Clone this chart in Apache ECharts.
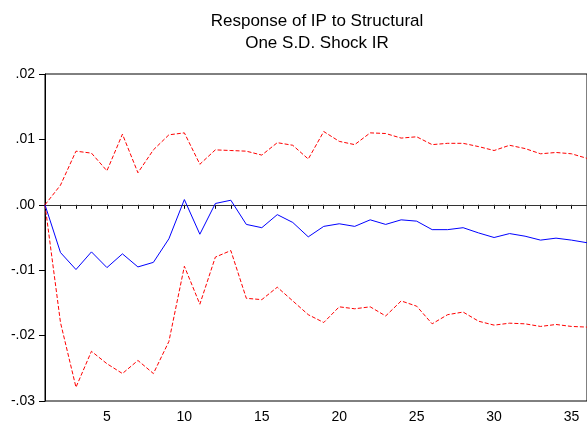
<!DOCTYPE html>
<html>
<head>
<meta charset="utf-8">
<title>Response of IP to Structural One S.D. Shock IR</title>
<script src="https://cdn.jsdelivr.net/npm/echarts@6/dist/echarts.min.js"></script>
<style>
  html, body { margin: 0; padding: 0; background: #fff; }
  #chart { width: 587px; height: 430px; }
</style>
</head>
<body>
<div id="chart"></div>
<script>
// Horizon (periods after the shock)
const periods = Array.from({ length: 36 }, (_, i) => String(i + 1));

// Impulse response of IP to a one S.D. structural IR shock
const response = [
  0, -0.0073, -0.0099, -0.0072, -0.0096, -0.0075, -0.0095, -0.0088, -0.0052, 0.0008,
  -0.0045, 0.0002, 0.0007, -0.0030, -0.0035, -0.0015, -0.0027, -0.0049, -0.0033, -0.0029,
  -0.0033, -0.0023, -0.0030, -0.0023, -0.0025, -0.0038, -0.0038, -0.0035, -0.0043, -0.0050,
  -0.0044, -0.0048, -0.0054, -0.0051, -0.0054, -0.0058
];

// +/- 2 S.E. bands
const upperBand = [
  0, 0.0030, 0.0082, 0.0079, 0.0052, 0.0108, 0.0049, 0.0084, 0.0107, 0.0110,
  0.0062, 0.0084, 0.0083, 0.0082, 0.0076, 0.0095, 0.0091, 0.0070, 0.0112, 0.0097,
  0.0092, 0.0110, 0.0109, 0.0102, 0.0104, 0.0092, 0.0094, 0.0094, 0.0089, 0.0083,
  0.0091, 0.0086, 0.0078, 0.0080, 0.0078, 0.0071
];
const lowerBand = [
  0, -0.0180, -0.0279, -0.0224, -0.0243, -0.0258, -0.0238, -0.0258, -0.0209, -0.0094,
  -0.0152, -0.0080, -0.0070, -0.0143, -0.0145, -0.0126, -0.0147, -0.0168, -0.0180, -0.0156,
  -0.0159, -0.0156, -0.0170, -0.0147, -0.0155, -0.0182, -0.0168, -0.0164, -0.0178, -0.0184,
  -0.0181, -0.0182, -0.0186, -0.0183, -0.0186, -0.0187
];

// Y tick labels, from -.03 to .02
const yTickValues = [-0.03, -0.02, -0.01, 0.00, 0.01, 0.02];
const yTickLabels = ['-.03', '-.02', '-.01', '.00', '.01', '.02'];

const FONT = '"Liberation Sans", Arial, Helvetica, sans-serif';

const chart = echarts.init(document.getElementById('chart'), null, { renderer: 'canvas' });

chart.setOption({
  animation: false,
  backgroundColor: '#ffffff',
  title: {
    text: 'Response of IP to Structural\nOne S.D. Shock IR',
    left: 312,
    top: 5,
    textAlign: 'center',
    textStyle: {
      fontFamily: FONT,
      fontSize: 17,
      fontWeight: 'normal',
      color: '#000',
      lineHeight: 22
    }
  },
  grid: {
    left: 45,
    top: 74,
    width: 544.5,
    height: 327,
    show: true,
    borderColor: '#000',
    borderWidth: 1,
    backgroundColor: 'transparent'
  },
  xAxis: {
    type: 'category',
    data: periods,
    boundaryGap: false,
    axisLine: { lineStyle: { color: '#000', width: 1 } },
    axisTick: { show: true, interval: 0, length: 4, lineStyle: { color: '#000' } },
    axisLabel: {
      interval: (idx, val) => Number(val) % 5 === 0,
      margin: 9,
      fontFamily: FONT,
      fontSize: 14,
      color: '#000'
    },
    splitLine: { show: false }
  },
  yAxis: {
    type: 'value',
    min: -0.03,
    max: 0.02,
    interval: 0.01,
    axisLine: { show: true, lineStyle: { color: '#000', width: 1 } },
    axisTick: { show: true, length: 6, lineStyle: { color: '#000' } },
    axisLabel: {
      margin: 10,
      fontFamily: FONT,
      fontSize: 14,
      color: '#000',
      formatter: (v) => {
        const i = yTickValues.findIndex(t => Math.abs(t - v) < 1e-9);
        return i >= 0 ? yTickLabels[i] : '';
      }
    },
    splitLine: { show: false }
  },
  series: [
    {
      name: 'Response',
      type: 'line',
      data: response,
      symbol: 'none',
      lineStyle: { color: '#0000ff', width: 1 },
      z: 3,
      markLine: {
        silent: true,
        symbol: 'none',
        label: { show: false },
        lineStyle: { color: '#333', type: 'solid', width: 1 },
        data: [{ yAxis: 0 }],
        z: 1
      }
    },
    {
      name: '+2 S.E.',
      type: 'line',
      data: upperBand,
      symbol: 'none',
      lineStyle: { color: '#ff0000', width: 1, type: [4, 2] },
      z: 2
    },
    {
      name: '-2 S.E.',
      type: 'line',
      data: lowerBand,
      symbol: 'none',
      lineStyle: { color: '#ff0000', width: 1, type: [4, 2] },
      z: 2
    }
  ]
});
</script>
</body>
</html>
